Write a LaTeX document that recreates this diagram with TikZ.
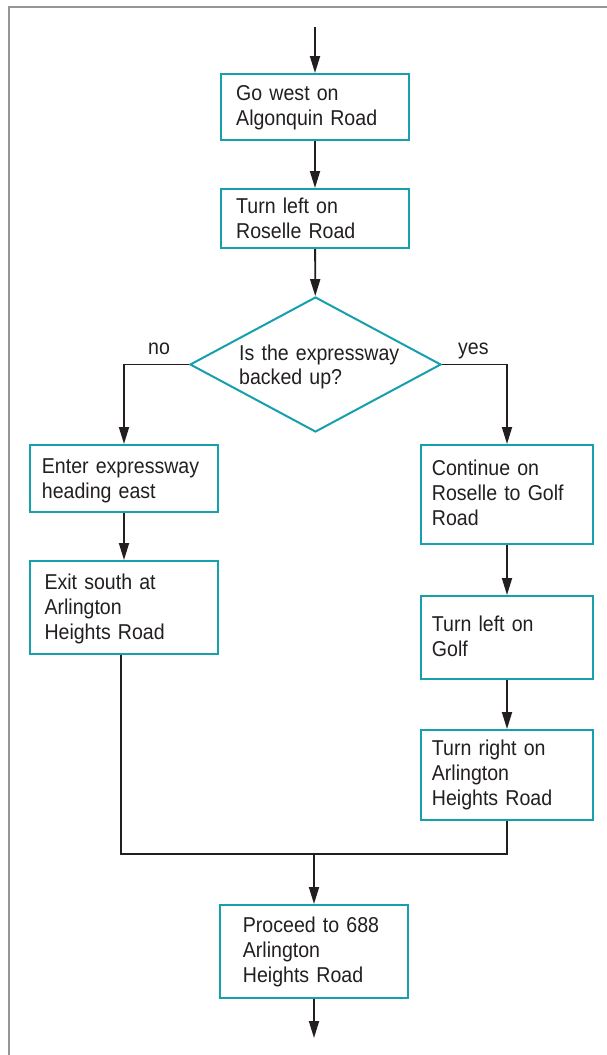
\documentclass[tikz,border=0pt]{standalone}
\usepackage{fontspec}
\setmainfont[FakeStretch=0.91]{Liberation Sans}
\usetikzlibrary{arrows.meta,shapes.geometric}
\definecolor{tealc}{RGB}{22,160,174}
\definecolor{inkc}{RGB}{35,31,32}
\definecolor{framec}{RGB}{150,150,150}
\begin{document}
\begin{tikzpicture}[x=1pt,y=-1pt,
  box/.style={draw=tealc,line width=2pt,rectangle,inner sep=0pt,fill=white},
  dia/.style={draw=tealc,line width=2pt,diamond,inner sep=0pt},
  txt/.style={anchor=base west,inner sep=0pt,text width=175pt,align=left,text=inkc,font=\fontsize{21.5}{25}\selectfont},
  lbl/.style={anchor=base west,inner sep=0pt,text=inkc,font=\fontsize{21.5}{25}\selectfont},
  conn/.style={draw=inkc,line width=1.8pt},
  arr/.style={conn,-{Triangle[length=17pt,width=10pt]}}]
\useasboundingbox (0,0) rectangle (607,1055);
\fill[white] (0,0) rectangle (607,1055);
\draw[framec,line width=2.5pt] (9,1056) -- (9,7) -- (608,7);
% boxes
\node[box,minimum width=188pt,minimum height=66pt] (b1) at (315,107) {};
\node[box,minimum width=188pt,minimum height=59pt] (b2) at (315,218.5) {};
\node[dia,minimum width=251pt,minimum height=135pt] (d) at (315.5,364.5) {};
\node[box,minimum width=188pt,minimum height=67pt] (b3) at (124,478.5) {};
\node[box,minimum width=188pt,minimum height=93pt] (b4) at (124,607.5) {};
\node[box,minimum width=172pt,minimum height=99pt] (b5) at (507,494.5) {};
\node[box,minimum width=172pt,minimum height=83pt] (b6) at (507,637.5) {};
\node[box,minimum width=172pt,minimum height=90pt] (b7) at (507,775) {};
\node[box,minimum width=188pt,minimum height=93pt] (b8) at (314,951.5) {};
% texts
\node[txt] (t1) at (236,100.7) {Go west on\\Algonquin Road};
\node[txt] (t2) at (236,213.3) {Turn left on\\Roselle Road};
\node[txt,font=\fontsize{21.5}{24}\selectfont] (td) at (239,360.7) {Is the expressway\\backed up?};
\node[txt] (t3) at (41.7,473.3) {Enter expressway\\heading east};
\node[txt] (t4) at (44.3,589) {Exit south at\\Arlington\\Heights Road};
\node[txt] (t5) at (431.7,475.7) {Continue on\\Roselle to Golf\\Road};
\node[txt] (t6) at (431.7,631.7) {Turn left on\\Golf};
\node[txt] (t7) at (431.7,755) {Turn right on\\Arlington\\Heights Road};
\node[txt] (t8) at (242.7,932.7) {Proceed to 688\\Arlington\\Heights Road};
\node[lbl] (no) at (148,354) {no};
\node[lbl] (yes) at (458,354) {yes};
% connectors
\coordinate (start) at (315,27);
\coordinate (j) at (314,854);
\coordinate (end) at (314,1038);
\draw[arr] (start) -- (b1);
\draw[arr] (b1) -- (b2);
\draw[arr] (b2) -- (d);
\draw[arr] (d.west) -| (b3);
\draw[arr] (d.east) -| (b5);
\draw[arr] (b3) -- (b4);
\draw[arr] (b5) -- (b6);
\draw[arr] (b6) -- (b7);
\draw[conn] ([xshift=-3pt]b4.south) |- (j) -| (b7.south);
\draw[arr] (j) -- (b8);
\draw[arr] (b8) -- (end);
\end{tikzpicture}
\end{document}
